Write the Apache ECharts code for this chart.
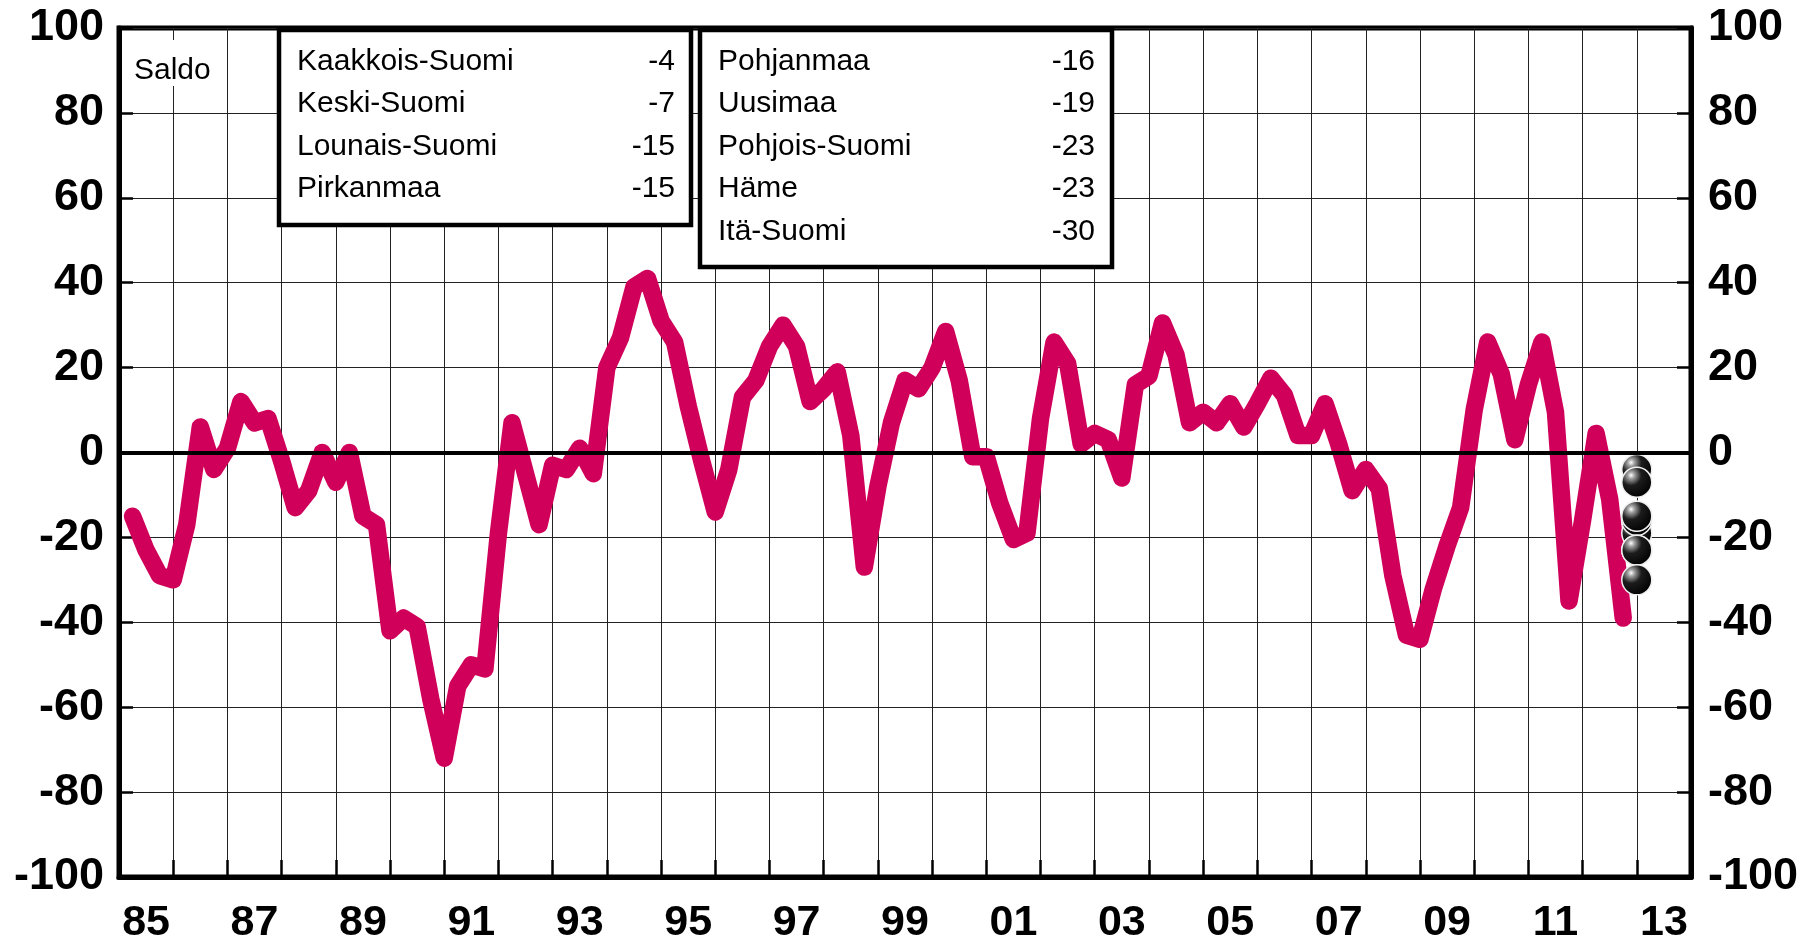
<!DOCTYPE html>
<html>
<head>
<meta charset="utf-8">
<script src="https://cdn.jsdelivr.net/npm/echarts/dist/echarts.min.js"></script>
<style>
html,body{margin:0;padding:0;background:#fff;}
#chart{width:1812px;height:939px;}
</style>
</head>
<body>
<div id="chart"></div>
<script>
// ---- data ----
const yearLabels = ['85','86','87','88','89','90','91','92','93','94','95','96','97','98','99',
  '00','01','02','03','04','05','06','07','08','09','10','11','12','13'];
const firstYear = 1985;
const lastYear = 2014;
// quarterly saldo, first value at 1985.25, one value per quarter
const saldoStart = 1985.25;
const saldoStep = 0.25;
const saldo = [
  -15, -23, -29,
  -30, -17, 6, -4,
  1, 12, 7, 8,
  -2, -13, -9, 0,
  -7, 0, -15, -17,
  -42, -39, -41, -58,
  -72, -55, -50, -51,
  -19, 7, -5, -17,
  -3, -4, 1, -5,
  20, 27, 39, 41,
  31, 26, 11, -2,
  -14, -4, 13, 17,
  25, 30, 25, 12,
  15, 19, 4, -27,
  -8, 7, 17, 15,
  20, 28.5, 17, -1,
  -1, -12, -20.5, -19,
  8, 26, 21, 2,
  4.5, 3, -6, 16,
  18, 30.5, 23, 7,
  9.5, 7, 11.5, 6,
  11.5, 17.5, 13.5, 4,
  4, 11.5, 2, -9,
  -4, -8.5, -29, -43,
  -44, -32, -22, -13,
  10, 26, 18.5, 3,
  16, 26, 9.5, -35,
  -16, 4.5, -11, -39
];
const regionsA = ['Kaakkois-Suomi', 'Keski-Suomi', 'Lounais-Suomi', 'Pirkanmaa'];
const valuesA = [-4, -7, -15, -15];
const regionsB = ['Pohjanmaa', 'Uusimaa', 'Pohjois-Suomi', 'Häme', 'Itä-Suomi'];
const valuesB = [-16, -19, -23, -23, -30];
const regionYear = 2013.0;
const yMin = -100, yMax = 100, yStep = 20;
const unitLabel = 'Saldo';

// ---- build ----
const FONT = '"Liberation Sans", Arial, Helvetica, sans-serif';
const lineData = saldo.map((v, i) => [saldoStart + i * saldoStep, v]);
const allRegionValues = valuesA.concat(valuesB);
// drawing order of the balls (later on top)
const drawOrder = [0, 1, 5, 4, 2, 3, 6, 7, 8];
const dotData = drawOrder.map(i => [regionYear, allRegionValues[i]]);

const ballColor = {
  type: 'radial', x: 0.32, y: 0.28, r: 0.78,
  colorStops: [
    {offset: 0, color: '#ffffff'},
    {offset: 0.14, color: '#a0a0a0'},
    {offset: 0.42, color: '#1c1c1c'},
    {offset: 1, color: '#000000'}
  ]
};

const graphics = [];
function legendBox(x, y, w, h, names, vals, textX, valX) {
  graphics.push({
    type: 'rect', z: 100,
    shape: {x: x, y: y, width: w, height: h},
    style: {fill: '#fff', stroke: '#000', lineWidth: 4.5}
  });
  names.forEach((n, i) => {
    const ty = y + 31.5 + i * 42.5;
    graphics.push({
      type: 'text', z: 101, x: textX, y: ty,
      style: {text: n, font: '30px ' + FONT, fill: '#000', textAlign: 'left', textVerticalAlign: 'middle'}
    });
    graphics.push({
      type: 'text', z: 101, x: valX, y: ty,
      style: {text: String(vals[i]), font: '30px ' + FONT, fill: '#000', textAlign: 'right', textVerticalAlign: 'middle'}
    });
  });
}
legendBox(279, 30, 412, 195, regionsA, valuesA, 297, 675);
legendBox(700, 30, 412, 237, regionsB, valuesB, 718, 1095);
graphics.push({
  type: 'rect', z: 99,
  shape: {x: 128, y: 40, width: 90, height: 46},
  style: {fill: '#fff'}
});
graphics.push({
  type: 'text', z: 101, x: 134, y: 71,
  style: {text: unitLabel, font: '30px ' + FONT, fill: '#000', textAlign: 'left', textVerticalAlign: 'middle'}
});

const chart = echarts.init(document.getElementById('chart'), null, {renderer: 'canvas'});
const yLabelStyle = {fontSize: 45, fontWeight: 'bold', color: '#000', fontFamily: FONT};
const xLabelStyle = {fontSize: 43, fontWeight: 'bold', color: '#000', fontFamily: FONT};
chart.setOption({
  animation: false,
  backgroundColor: '#fff',
  grid: {
    left: 119, right: 121, top: 28, bottom: 62,
    show: true, borderColor: '#000', borderWidth: 5, backgroundColor: 'transparent',
    containLabel: false, outerBoundsMode: 'none'
  },
  xAxis: [
    {
      type: 'value', min: firstYear, max: lastYear, interval: 1,
      axisLine: {show: true, onZero: false, lineStyle: {color: '#000', width: 5}},
      axisTick: {show: true, inside: true, length: 17, lineStyle: {color: '#000', width: 2.5}},
      axisLabel: {show: false},
      splitLine: {show: true, lineStyle: {color: '#222', width: 1}}
    },
    {
      type: 'category', position: 'bottom', data: yearLabels, boundaryGap: true,
      axisLine: {show: false}, axisTick: {show: false}, splitLine: {show: false},
      axisLabel: Object.assign({interval: 1, margin: 25}, xLabelStyle)
    }
  ],
  yAxis: [
    {
      type: 'value', position: 'left', min: yMin, max: yMax, interval: yStep,
      axisLine: {show: true, lineStyle: {color: '#000', width: 5}},
      axisTick: {show: true, inside: true, length: 14, lineStyle: {color: '#000', width: 2.5}},
      axisLabel: Object.assign({margin: 15}, yLabelStyle),
      splitLine: {show: true, lineStyle: {color: '#222', width: 1}}
    },
    {
      type: 'value', position: 'right', min: yMin, max: yMax, interval: yStep,
      axisLine: {show: true, lineStyle: {color: '#000', width: 5}},
      axisTick: {show: true, inside: true, length: 14, lineStyle: {color: '#000', width: 2.5}},
      axisLabel: Object.assign({margin: 17}, yLabelStyle),
      splitLine: {show: false}
    }
  ],
  graphic: graphics,
  series: [
    {
      type: 'line', xAxisIndex: 0, yAxisIndex: 0, data: [], z: 1, silent: true,
      markLine: {
        silent: true, symbol: ['none', 'none'], label: {show: false},
        lineStyle: {color: '#000', width: 4, type: 'solid'},
        data: [{yAxis: 0}]
      }
    },
    {
      type: 'line', xAxisIndex: 0, yAxisIndex: 0, data: lineData, z: 3,
      showSymbol: false, smooth: false,
      lineStyle: {color: '#D0005A', width: 17.5, cap: 'round', join: 'round'}
    },
    {
      type: 'scatter', xAxisIndex: 0, yAxisIndex: 0, data: dotData, z: 4,
      symbol: 'circle', symbolSize: 30,
      itemStyle: {color: ballColor, borderColor: '#f0f0f0', borderWidth: 1.5, opacity: 1}
    }
  ]
});
</script>
</body>
</html>
